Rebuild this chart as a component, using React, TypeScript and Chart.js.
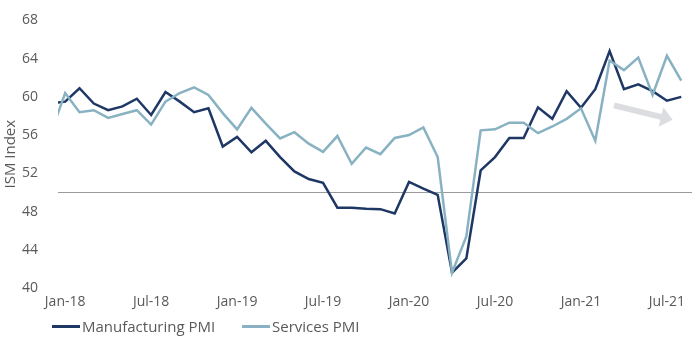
import React, { useEffect, useRef } from "react";
import { Chart, registerables } from "chart.js";

Chart.register(...registerables);

const months = [
  "Dec-17",
  "Jan-18", "Feb-18", "Mar-18", "Apr-18", "May-18", "Jun-18", "Jul-18", "Aug-18", "Sep-18", "Oct-18", "Nov-18", "Dec-18",
  "Jan-19", "Feb-19", "Mar-19", "Apr-19", "May-19", "Jun-19", "Jul-19", "Aug-19", "Sep-19", "Oct-19", "Nov-19", "Dec-19",
  "Jan-20", "Feb-20", "Mar-20", "Apr-20", "May-20", "Jun-20", "Jul-20", "Aug-20", "Sep-20", "Oct-20", "Nov-20", "Dec-20",
  "Jan-21", "Feb-21", "Mar-21", "Apr-21", "May-21", "Jun-21", "Jul-21", "Aug-21",
];

const manufacturingPMI = [
  59.3,
  59.5, 60.9, 59.3, 58.6, 59.0, 59.8, 58.1, 60.5, 59.5, 58.4, 58.8, 54.8,
  55.8, 54.2, 55.4, 53.7, 52.2, 51.4, 51.0, 48.4, 48.4, 48.3, 48.25, 47.8,
  51.1, 50.4, 49.75, 41.6, 43.1, 52.3, 53.7, 55.7, 55.7, 58.9, 57.7, 60.6,
  58.85, 60.8, 64.8, 60.8, 61.3, 60.6, 59.6, 60.0,
];

const servicesPMI = [
  56.2,
  60.4, 58.4, 58.6, 57.8, 58.2, 58.6, 57.1, 59.5, 60.4, 61.0, 60.2, 58.3,
  56.6, 58.85, 57.2, 55.65, 56.3, 55.1, 54.25, 55.9, 53.0, 54.7, 54.0, 55.7,
  56.0, 56.8, 53.7, 41.6, 45.4, 56.5, 56.6, 57.3, 57.3, 56.2, 56.9, 57.7,
  58.8, 55.4, 63.8, 62.8, 64.1, 60.2, 64.3, 61.7,
];

const xTickLabels = ["Jan-18", "Jul-18", "Jan-19", "Jul-19", "Jan-20", "Jul-20", "Jan-21", "Jul-21"];
const yTickValues = [40, 44, 48, 52, 56, 60, 64, 68];
const referenceLevel = 50;

// trend arrow, in data units (month offset from Jan-18, index value)
const arrowStart = { x: 38.3, y: 59.1 };
const arrowEnd = { x: 42.4, y: 57.6 };

const DARK = "#1e3765";
const LIGHT = "#88b2c2";
const TEXT = "#595959";
const FONT = "'Open Sans', 'Noto Sans', sans-serif";

const ORIGIN = months.indexOf("Jan-18");

const overlayPlugin = {
  id: "overlay",
  beforeDatasetsDraw(chart: any) {
    const { ctx, chartArea, scales } = chart;
    const y = Math.round(scales.y.getPixelForValue(referenceLevel)) + 0.5;
    ctx.save();
    ctx.strokeStyle = "#9a9a9a";
    ctx.lineWidth = 1;
    ctx.beginPath();
    ctx.moveTo(chartArea.left, y);
    ctx.lineTo(chartArea.right, y);
    ctx.stroke();
    ctx.restore();
  },
  afterDatasetsDraw(chart: any) {
    const { ctx, scales } = chart;
    const x0 = scales.x.getPixelForValue(arrowStart.x);
    const y0 = scales.y.getPixelForValue(arrowStart.y);
    const x1 = scales.x.getPixelForValue(arrowEnd.x);
    const y1 = scales.y.getPixelForValue(arrowEnd.y);
    const ang = Math.atan2(y1 - y0, x1 - x0);
    const headLen = 12;
    const headHalf = 10;
    const bx = x1 - headLen * Math.cos(ang);
    const by = y1 - headLen * Math.sin(ang);
    ctx.save();
    ctx.strokeStyle = "#dcdde0";
    ctx.fillStyle = "#dcdde0";
    ctx.lineWidth = 6;
    ctx.beginPath();
    ctx.moveTo(x0, y0);
    ctx.lineTo(bx + Math.cos(ang), by + Math.sin(ang));
    ctx.stroke();
    ctx.beginPath();
    ctx.moveTo(x1, y1);
    ctx.lineTo(bx + headHalf * Math.sin(ang), by - headHalf * Math.cos(ang));
    ctx.lineTo(bx - headHalf * Math.sin(ang), by + headHalf * Math.cos(ang));
    ctx.closePath();
    ctx.fill();
    ctx.restore();
  },
};

function App() {
  const ref = useRef<HTMLCanvasElement | null>(null);

  useEffect(() => {
    if (!ref.current) return;
    const toPoints = (arr: number[]) => arr.map((v, i) => ({ x: i - ORIGIN, y: v }));
    const chart = new Chart(ref.current, {
      type: "line",
      data: {
        datasets: [
          {
            label: "Services PMI",
            data: toPoints(servicesPMI),
            borderColor: LIGHT,
            backgroundColor: LIGHT,
            borderWidth: 2.5,
            pointRadius: 0,
            tension: 0,
            clip: 0,
          },
          {
            label: "Manufacturing PMI",
            data: toPoints(manufacturingPMI),
            borderColor: DARK,
            backgroundColor: DARK,
            borderWidth: 2.5,
            pointRadius: 0,
            tension: 0,
            clip: 0,
          },
        ],
      },
      options: {
        responsive: false,
        animation: false,
        devicePixelRatio: 1,
        layout: { padding: { top: 20, right: 0, bottom: 19, left: 0 } },
        plugins: {
          legend: { display: false },
          tooltip: { enabled: false },
        },
        scales: {
          x: {
            type: "linear",
            min: -0.5,
            max: 43.75,
            grid: { display: false },
            border: { display: false },
            afterBuildTicks: (s: any) => {
              s.ticks = xTickLabels.map((l) => ({ value: months.indexOf(l) - ORIGIN }));
            },
            afterFit: (s: any) => {
              s.height = 30;
            },
            ticks: {
              autoSkip: false,
              maxRotation: 0,
              padding: -2,
              color: TEXT,
              font: { family: FONT, size: 14 },
              callback: (v: any) => months[Math.round(Number(v)) + ORIGIN],
            },
          },
          y: {
            min: 40,
            max: 68,
            grid: { display: false },
            border: { display: false },
            afterBuildTicks: (s: any) => {
              s.ticks = yTickValues.map((v) => ({ value: v }));
            },
            afterFit: (s: any) => {
              s.width = 58;
            },
            ticks: {
              padding: 12,
              color: TEXT,
              font: { family: FONT, size: 14 },
            },
            title: {
              display: true,
              text: "ISM Index",
              color: TEXT,
              padding: { top: 2, bottom: 0 },
              font: { family: FONT, size: 15 },
            },
          },
        },
      },
      plugins: [overlayPlugin],
    });
    return () => chart.destroy();
  }, []);

  const legendItem = (color: string, label: string, left: number) => (
    <div
      style={{
        position: "absolute",
        left,
        top: 316,
        height: 20,
        display: "flex",
        alignItems: "center",
        whiteSpace: "nowrap",
      }}
    >
      <span style={{ display: "inline-block", width: 28, height: 3, background: color, marginRight: 2 }} />
      <span style={{ fontFamily: FONT, fontSize: 15, color: TEXT }}>{label}</span>
    </div>
  );

  return (
    <div style={{ position: "absolute", left: 0, top: 0, width: 692, height: 337, background: "#fff" }}>
      <canvas ref={ref} width={692} height={337} style={{ display: "block", width: 692, height: 337 }} />
      {legendItem(DARK, "Manufacturing PMI", 52)}
      {legendItem(LIGHT, "Services PMI", 242)}
    </div>
  );
}

export default App;
